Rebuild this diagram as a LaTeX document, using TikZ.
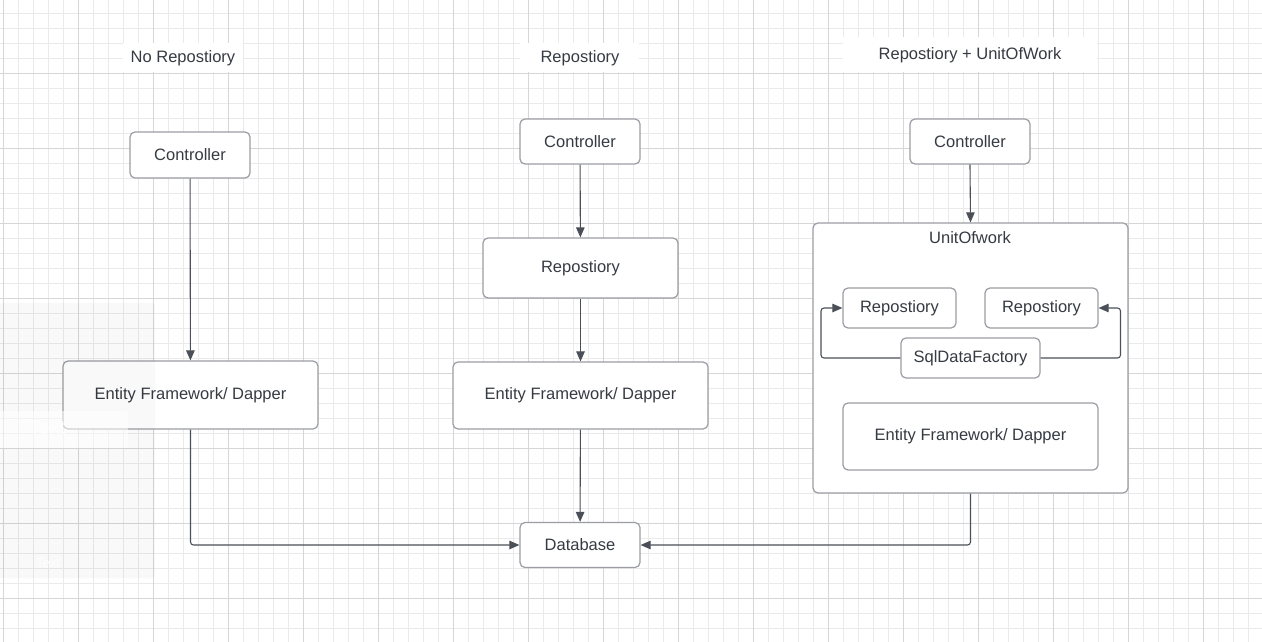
\documentclass[tikz,border=0pt]{standalone}
\usepackage{fontspec}
\setmainfont{Liberation Sans}
\usetikzlibrary{arrows.meta}
\definecolor{boxline}{HTML}{9A9DA3}
\definecolor{txt}{HTML}{363B43}
\definecolor{conn}{HTML}{4B5058}
\definecolor{gminor}{HTML}{EAEAEA}
\definecolor{gmajor}{HTML}{D6D6D6}
\begin{document}
\begin{tikzpicture}[x=1pt,y=-1pt,
  box/.style={draw=boxline, line width=1.2pt, fill=white, rounded corners=5pt,
    inner sep=0pt, text=txt, font=\fontsize{16.5}{19}\selectfont},
  arr/.style={draw=conn, line width=1.1pt, -{Triangle[length=10pt,width=8.5pt]}, rounded corners=3pt},
  ttl/.style={text=txt, inner sep=0pt, font=\fontsize{16.5}{19}\selectfont},
  tbg/.style={fill=white}]
\useasboundingbox (0,0) rectangle (1262,642);
\fill[white] (0,0) rectangle (1262,642);
% grid
\foreach \k in {0,...,83} {\draw[gminor, line width=1pt] (3.3+15*\k,0) -- (3.3+15*\k,642);}
\foreach \k in {0,...,41} {\draw[gminor, line width=1pt] (0,13.3+15*\k) -- (1262,13.3+15*\k);}
\foreach \k in {0,...,16} {\draw[gmajor, line width=1pt] (3.3+75*\k,0) -- (3.3+75*\k,642);}
\foreach \k in {0,...,7} {\draw[gmajor, line width=1pt] (0,73.3+75*\k) -- (1262,73.3+75*\k);}
% titles
\fill[tbg] (123,43) rectangle (243,72);
\fill[tbg] (520,43) rectangle (639,72);
\fill[tbg] (843,37) rectangle (1097,72);
\node[ttl] (t1) at (183,58.5) {No Repostiory};
\node[ttl] (t2) at (580,58.5) {Repostiory};
\node[ttl] (t3) at (970,55.5) {Repostiory + UnitOfWork};
% column 1
\node[box, minimum width=120pt, minimum height=46pt] (c1) at (190,155) {Controller};
\node[box, minimum width=255pt, minimum height=68pt] (ef1) at (190.5,395) {Entity Framework/ Dapper};
% column 2
\node[box, minimum width=120pt, minimum height=45pt] (c2) at (580,141.5) {Controller};
\node[box, minimum width=195pt, minimum height=60pt] (r2) at (580.5,268) {Repostiory};
\node[box, minimum width=255pt, minimum height=67pt] (ef2) at (580.5,395.5) {Entity Framework/ Dapper};
\node[box, minimum width=120pt, minimum height=45pt] (db) at (580,545) {Database};
% column 3
\node[box, minimum width=120pt, minimum height=45pt] (c3) at (970,141.5) {Controller};
\node[box, minimum width=315pt, minimum height=270pt] (uow) at (970.5,358) {};
\node[ttl] (uowl) at (970,237.5) {UnitOfwork};
\node[box, minimum width=113pt, minimum height=40pt] (rl) at (899.5,308) {Repostiory};
\node[box, minimum width=113pt, minimum height=40pt] (rr) at (1041.5,308) {Repostiory};
\node[box, minimum width=139pt, minimum height=40pt] (sql) at (970.5,358) {SqlDataFactory};
\node[box, minimum width=255pt, minimum height=67pt] (ef3) at (970.5,436.5) {Entity Framework/ Dapper};
\coordinate (lx) at (821,0);
\coordinate (rx) at (1120.5,0);
% connectors
\draw[arr] (c1) -- (ef1);
\draw[arr] (ef1.south) |- (db.west);
\draw[arr] (c2) -- (r2);
\draw[arr] (r2) -- (ef2);
\draw[arr] (ef2) -- (db);
\draw[arr] (c3.south) -- (uow.north);
\draw[arr] (uow.south) |- (db.east);
\draw[arr] (sql.west) -| (lx |- rl.west) -- (rl.west);
\draw[arr] (sql.east) -| (rx |- rr.east) -- (rr.east);
% faint panel on the left
\fill[black, opacity=0.025, rounded corners=3pt] (-5,303) rectangle (155,578);
\fill[white, opacity=0.55, rounded corners=3pt] (-5,411) rectangle (128,448);
\node[text=white, opacity=0.8, inner sep=0pt, font=\fontsize{20}{22}\selectfont] (gt1) at (47,428) {Text};
\node[text=white, opacity=0.8, inner sep=0pt, font=\fontsize{13}{15}\selectfont] (gt2) at (48,563) {Text};
\end{tikzpicture}
\end{document}
